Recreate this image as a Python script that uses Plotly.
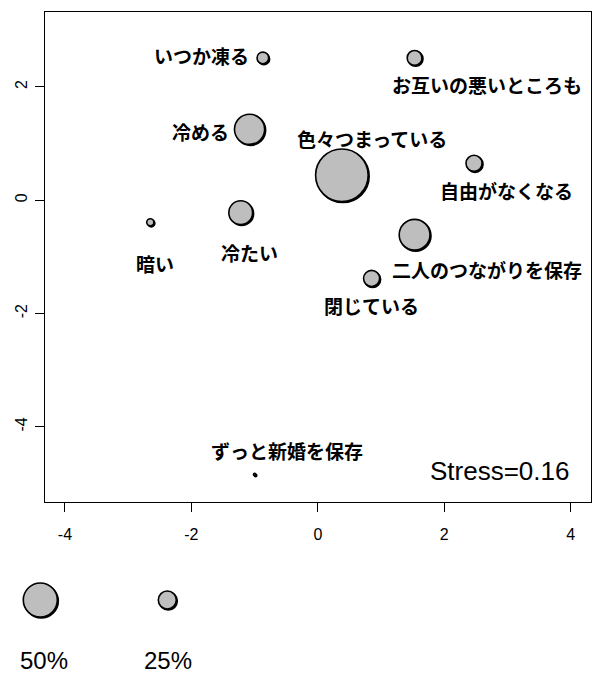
import plotly.graph_objects as go

# ---- data ----
labels = ["いつか凍る", "お互いの悪いところも", "冷める", "色々つまっている", "自由がなくなる",
          "二人のつながりを保存", "閉じている", "冷たい", "暗い", "ずっと新婚を保存"]
xs = [-0.87, 1.53, -1.08, 0.38, 2.47, 1.53, 0.85, -1.22, -2.65, -1.00]
ys = [2.51, 2.51, 1.25, 0.44, 0.65, -0.61, -1.38, -0.22, -0.39, -4.84]
pct = [15, 20, 44, 79, 22, 45, 22, 34, 8, 0.5]
# label anchor positions (data units)
lab_x = [-1.84, 2.68, -1.85, 0.85, 2.98, 2.68, 0.85, -1.075, -2.58, -0.495]
lab_y = [2.55, 2.035, 1.22, 1.08, 0.17, -1.23, -1.85, -0.93, -1.11, -4.41]
x_ticks = [-4, -2, 0, 2, 4]
y_ticks = [-4, -2, 0, 2]
legend_pct = [50, 25]
legend_txt = ["50%", "25%"]
stress_txt = "Stress=0.16"

W, H = 595, 675
LINE_W = 1.6
X_RANGE = [-4.32, 4.32]
Y_RANGE = [-5.32, 3.32]
def diam(p):
    return 2.0 + 0.64 * p

LATIN = "Liberation Sans, Arial"
CJK = "Noto Sans CJK JP"
FILL = "#BEBEBE"

paper_w = W - 4
paper_h = H - 12
x_dom = [44.7 / paper_w, 1.0]
y_dom = [(H - 501.7) / paper_h, 1.0]
px_per_x = (x_dom[1] - x_dom[0]) * paper_w / (X_RANGE[1] - X_RANGE[0])
px_per_y = (y_dom[1] - y_dom[0]) * paper_h / (Y_RANGE[1] - Y_RANGE[0])
SH = 1.0  # shadow offset in px

fig = go.Figure()
# shadow
fig.add_trace(go.Scatter(
    x=[v + SH / px_per_x for v in xs], y=[v - SH / px_per_y for v in ys], mode="markers",
    marker=dict(size=[diam(p) for p in pct], color="black", opacity=1,
                line=dict(color="black", width=LINE_W)),
    cliponaxis=False, hoverinfo="skip", showlegend=False))
fig.add_trace(go.Scatter(
    x=xs, y=ys, mode="markers",
    marker=dict(size=[diam(p) for p in pct], color=FILL, opacity=1,
                line=dict(color="black", width=LINE_W)),
    cliponaxis=False, hoverinfo="skip", showlegend=False))

for t, lx, ly in zip(labels, lab_x, lab_y):
    fig.add_annotation(x=lx, y=ly, xref="x", yref="y", text=t, showarrow=False,
                       font=dict(family=CJK, size=19, color="black", weight="bold"),
                       xanchor="center", yanchor="middle")

fig.add_annotation(x=4.01, y=-4.78, xref="x", yref="y", text=stress_txt, showarrow=False,
                   font=dict(family=LATIN, size=26, color="black"),
                   xanchor="right", yanchor="middle")

# legend (pixel-like axis in the bottom strip)
leg_px = [40.3, 167.3]
leg_size = [diam(p) for p in legend_pct]
fig.add_trace(go.Scatter(
    x=[v + SH for v in leg_px], y=[-600 - SH, -600 - SH], xaxis="x2", yaxis="y2", mode="markers",
    marker=dict(size=leg_size, color="black", opacity=1, line=dict(color="black", width=LINE_W)),
    cliponaxis=False, hoverinfo="skip", showlegend=False))
fig.add_trace(go.Scatter(
    x=leg_px, y=[-600, -600], xaxis="x2", yaxis="y2", mode="markers",
    marker=dict(size=leg_size, color=FILL, opacity=1, line=dict(color="black", width=LINE_W)),
    cliponaxis=False, hoverinfo="skip", showlegend=False))
for t, px in zip(legend_txt, [44, 168]):
    fig.add_annotation(x=px, y=-660.8, xref="x2", yref="y2", text=t, showarrow=False,
                       font=dict(family=LATIN, size=24, color="black"),
                       xanchor="center", yanchor="middle")

leg_top = 0.2
fig.update_layout(
    width=W, height=H,
    margin=dict(l=0, r=4, t=12, b=0, autoexpand=False),
    plot_bgcolor="white", paper_bgcolor="white",
    xaxis=dict(domain=x_dom, range=X_RANGE, tickvals=x_ticks,
               ticktext=[str(v) for v in x_ticks],
               showgrid=False, zeroline=False, showline=True, linecolor="black",
               linewidth=1, mirror=True, ticks="outside", ticklen=9, tickcolor="black",
               tickwidth=1, tickfont=dict(family=LATIN, size=16, color="black"),
               ticklabelstandoff=9, automargin=False),
    yaxis=dict(domain=y_dom, range=Y_RANGE, tickvals=y_ticks,
               ticktext=[str(v) for v in y_ticks],
               showgrid=False, zeroline=False, showline=True, linecolor="black",
               linewidth=1, mirror=True, ticks="outside", ticklen=9, tickcolor="black",
               tickwidth=1, tickangle=-90, tickfont=dict(family=LATIN, size=16, color="black"),
               ticklabelstandoff=1, automargin=False),
    xaxis2=dict(domain=[0, 1], range=[0, paper_w], visible=False, anchor="y2"),
    yaxis2=dict(domain=[0, leg_top], range=[-H, -H + leg_top * paper_h],
                visible=False, anchor="x2"),
)

fig.write_html("out.html", config={"displayModeBar": False},
               post_script="document.body.style.margin='0';document.body.style.overflow='hidden';")
